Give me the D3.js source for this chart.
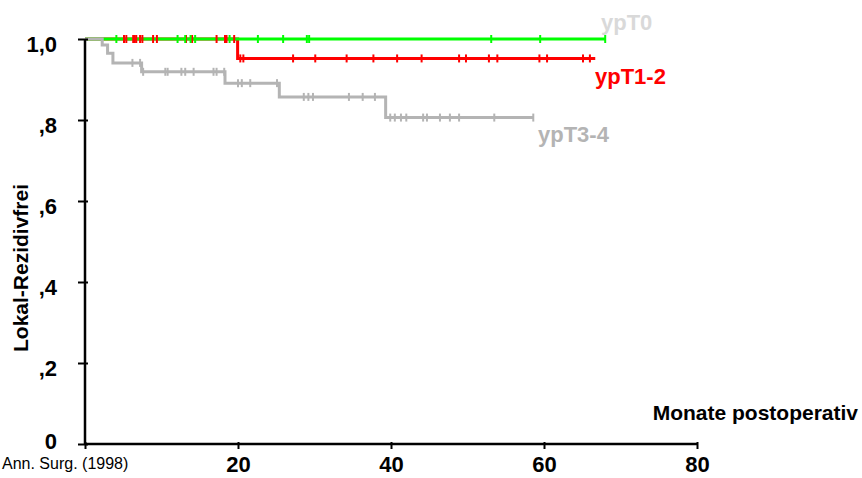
<!DOCTYPE html>
<html>
<head>
<meta charset="utf-8">
<script src="https://cdn.jsdelivr.net/npm/d3@7"></script>
<style>
  body { margin: 0; background: #fff; }
  svg { display: block; font-family: "Liberation Sans", Arial, sans-serif; }
</style>
</head>
<body>
<svg id="chart" width="862" height="478"></svg>
<script>
// Kaplan-Meier curves, local recurrence free
var xTicks = [0, 20, 40, 60, 80];
var yTicks = [0, 0.2, 0.4, 0.6, 0.8, 1.0];
var yTickLabels = ['0', ',2', ',4', ',6', ',8', '1,0'];

// ypT0
var greenTimes = [0];
var greenSurv = [1.0];
var greenEnd = 68.0;
var greenCensor = [4.1, 12.1, 13.1, 13.8, 14.4, 18.9, 22.6, 25.9, 29.0, 29.3, 53.1, 59.5, 68.0];

// ypT1-2
var redTimes = [0, 19.95];
var redSurv = [1.0, 0.952];
var redEnd = 66.7;
var redCensor = [5.1, 5.4, 6.3, 6.5, 6.7, 7.2, 7.5, 8.9, 9.4, 13.2, 14.0, 17.2, 18.3, 18.5, 19.5,
  20.3, 20.7, 27.2, 30.1, 34.2, 37.7, 40.8, 44.0, 48.9, 49.8, 52.8, 53.9, 59.4, 60.4, 65.1, 66.0];

// ypT3-4
var grayTimes = [0, 2.25, 2.95, 3.65, 7.4, 18.3, 25.4, 39.3];
var graySurv = [1.0, 0.985, 0.965, 0.941, 0.919, 0.891, 0.857, 0.806];
var grayEnd = 58.6;
var grayCensor = [6.2, 7.2, 7.6, 10.5, 10.8, 12.6, 13.1, 14.2, 16.8, 17.2, 18.2, 20.0, 20.5, 21.6, 25.1,
  28.6, 29.2, 29.8, 34.5, 36.3, 37.9, 39.9, 40.5, 41.3, 42.0, 44.2, 44.7, 46.4, 47.7, 48.9, 53.5, 58.6];

var svg = d3.select('#chart');
var x = d3.scaleLinear().domain([0, 80]).range([85, 697]);
var y = d3.scaleLinear().domain([0, 1]).range([444, 39]);

// build the step points for one group
var kmPoints = function(times, surv, end) {
  var pts = times.map(function(t, i) { return [t, surv[i]]; });
  pts.push([end, surv[surv.length - 1]]);
  return pts;
};
var survAt = function(times, surv, t) {
  var s = surv[0];
  times.forEach(function(tt, i) { if (tt <= t) s = surv[i]; });
  return s;
};

var groups = [
  {name: 'ypT1-2', color: '#ff0000', times: redTimes, surv: redSurv, end: redEnd, censor: redCensor},
  {name: 'ypT0', color: '#00ff00', times: greenTimes, surv: greenSurv, end: greenEnd, censor: greenCensor},
  {name: 'ypT3-4', color: '#b4b4b4', times: grayTimes, surv: graySurv, end: grayEnd, censor: grayCensor}
];

var line = d3.line()
  .x(function(d) { return x(d[0]); })
  .y(function(d) { return y(d[1]); })
  .curve(d3.curveStepAfter);

groups.forEach(function(g) {
  svg.append('path')
    .attr('d', line(kmPoints(g.times, g.surv, g.end)))
    .attr('fill', 'none')
    .attr('stroke', g.color)
    .attr('stroke-width', 3);
});
// censor marks on top
groups.forEach(function(g) {
  svg.append('g').selectAll('line').data(g.censor)
    .enter()
    .append('line')
    .attr('x1', function(d) { return x(d); })
    .attr('x2', function(d) { return x(d); })
    .attr('y1', function(d) { return y(survAt(g.times, g.surv, d)) - 4; })
    .attr('y2', function(d) { return y(survAt(g.times, g.surv, d)) + 4; })
    .attr('stroke', g.color)
    .attr('stroke-width', 2);
});

// axes
var yAxis = d3.axisLeft(y).tickValues(yTicks).tickSize(7)
  .tickFormat(function(d, i) { return yTickLabels[i]; });
var gy = svg.append('g').attr('transform', 'translate(85,0)').call(yAxis);
gy.select('.domain').attr('stroke-width', 2.5).attr('d', 'M0,' + y(1) + 'V' + y(0));
gy.selectAll('.tick line').attr('x1', 3).attr('stroke-width', 2);
gy.selectAll('.tick text')
  .attr('x', -28)
  .attr('dy', function(d) { return d === 0 ? '0.2em' : '0.55em'; })
  .style('font-size', '22px').style('font-weight', 'bold')
  .style('font-family', '"Liberation Sans", Arial, sans-serif');

var xAxis = d3.axisBottom(x).tickValues(xTicks).tickSize(5)
  .tickFormat(function(d) { return d === 0 ? '' : d; });
var gx = svg.append('g').attr('transform', 'translate(0,444)').call(xAxis);
gx.select('.domain').attr('stroke-width', 2.5).attr('d', 'M' + x(0) + ',0H' + x(80));
gx.selectAll('.tick line').attr('y1', -2).attr('stroke-width', 2);
gx.selectAll('.tick text')
  .attr('y', 12)
  .style('font-size', '22px').style('font-weight', 'bold')
  .style('font-family', '"Liberation Sans", Arial, sans-serif');

// titles
svg.append('text')
  .attr('transform', 'translate(28,268) rotate(-90)')
  .attr('text-anchor', 'middle')
  .style('font-size', '21px').style('font-weight', 'bold')
  .text('Lokal-Rezidivfrei');
svg.append('text')
  .attr('x', 858).attr('y', 420)
  .attr('text-anchor', 'end')
  .style('font-size', '21px').style('font-weight', 'bold')
  .text('Monate postoperativ');
svg.append('text')
  .attr('x', 2).attr('y', 469)
  .style('font-size', '16px')
  .text('Ann. Surg. (1998)');

// curve labels
var curveLabels = [
  {text: 'ypT0', x: 601, y: 30, color: '#d9d9d9'},
  {text: 'ypT1-2', x: 595, y: 84, color: '#ff0000'},
  {text: 'ypT3-4', x: 538, y: 142, color: '#b4b4b4'}
];
svg.selectAll('text.curve').data(curveLabels)
  .enter()
  .append('text')
  .attr('class', 'curve')
  .attr('x', function(d) { return d.x; })
  .attr('y', function(d) { return d.y; })
  .attr('fill', function(d) { return d.color; })
  .style('font-size', '22px').style('font-weight', 'bold')
  .text(function(d) { return d.text; });
</script>
</body>
</html>
